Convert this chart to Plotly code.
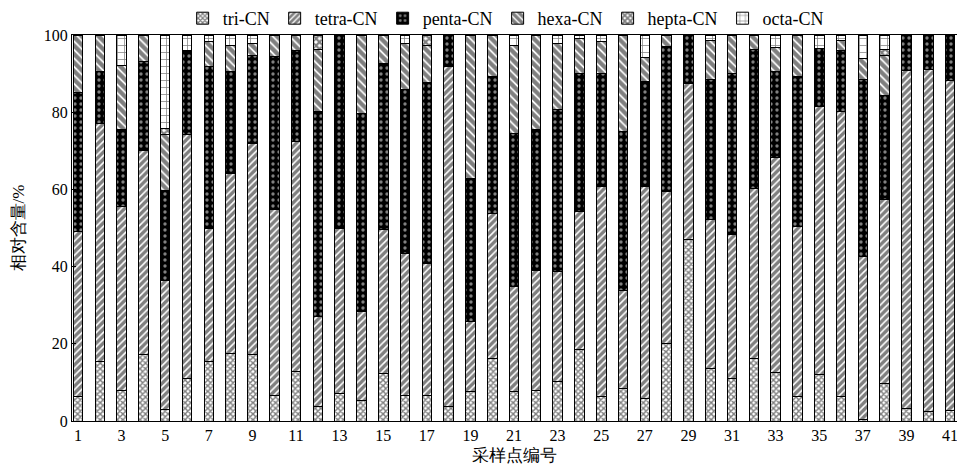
import plotly.graph_objects as go

samples = list(range(1, 42))
tick_labels = [str(i) for i in range(1, 42, 2)]
tick_vals = list(range(1, 42, 2))

tri = [6.3, 15.4, 8.0, 17.1, 3.0, 11.1, 15.4, 17.6, 17.1, 6.7,
       12.8, 3.7, 7.2, 5.4, 12.4, 6.7, 6.7, 3.7, 7.6, 16.2,
       7.6, 8.0, 10.2, 18.4, 6.3, 8.5, 5.9, 20.1, 46.9, 13.7,
       11.1, 16.2, 12.5, 6.3, 12.0, 6.3, 0.5, 9.8, 3.3, 2.4, 2.8]
tetra = [42.7, 61.8, 47.5, 53.1, 33.5, 63.0, 34.5, 46.6, 54.9, 48.0,
         59.6, 23.3, 42.7, 22.9, 37.1, 36.7, 34.2, 88.1, 18.1, 37.6,
         27.2, 31.1, 28.5, 35.8, 54.4, 25.4, 54.8, 39.3, 40.6, 38.4,
         37.1, 44.1, 55.8, 44.0, 69.4, 74.0, 42.0, 47.5, 87.4, 88.7, 85.5]
penta = [36.0, 13.3, 19.9, 22.9, 23.3, 21.5, 41.9, 26.3, 22.8, 39.7,
         23.7, 53.3, 50.1, 51.3, 43.2, 42.6, 46.8, 8.2, 37.2, 35.4,
         39.7, 36.3, 42.0, 35.9, 29.4, 41.0, 27.2, 37.6, 12.5, 36.4,
         41.9, 36.0, 22.3, 39.0, 15.1, 15.6, 46.0, 27.0, 9.3, 8.9, 11.7]
hexa = [15.0, 9.5, 16.8, 6.9, 14.4, 0.5, 6.5, 6.9, 3.0, 5.6,
        3.9, 16.0, 0.0, 20.4, 7.3, 11.8, 9.7, 0.0, 37.1, 10.8,
        22.7, 24.6, 17.2, 9.0, 8.2, 25.1, 6.3, 3.0, 0.0, 10.2,
        9.9, 3.7, 6.1, 10.7, 0.0, 2.6, 5.5, 10.5, 0.0, 0.0, 0.0]
hepta = [0, 0, 0, 0, 1.6, 0, 0, 0, 0, 0,
         0, 3.7, 0, 0, 0, 0, 2.6, 0, 0, 0,
         0, 0, 0, 0, 0, 0, 0, 0, 0, 0,
         0, 0, 0, 0, 0, 0, 0, 1.5, 0, 0, 0]
octa = [0, 0, 7.8, 0, 24.2, 3.9, 1.7, 2.6, 2.2, 0,
        0, 0, 0, 0, 0, 2.2, 0, 0, 0, 0,
        2.8, 0, 2.1, 0.9, 1.7, 0, 5.8, 0, 0, 1.3,
        0, 0, 3.3, 0, 3.5, 1.5, 6.0, 3.7, 0, 0, 0]

series = [
    ("tri-CN", tri, dict(shape="x", fgcolor="black", bgcolor="white", size=4, solidity=0.6)),
    ("tetra-CN", tetra, dict(shape="/", fgcolor="black", bgcolor="white", size=5, solidity=0.68)),
    ("penta-CN", penta, dict(shape=".", fgcolor="white", bgcolor="black", size=6, solidity=0.25)),
    ("hexa-CN", hexa, dict(shape="\\", fgcolor="black", bgcolor="white", size=6, solidity=0.7)),
    ("hepta-CN", hepta, dict(shape="x", fgcolor="black", bgcolor="white", size=5, solidity=0.7)),
    ("octa-CN", octa, dict(shape="+", fgcolor="black", bgcolor="white", size=7, solidity=0.2)),
]

fig = go.Figure()
for name, vals, pat in series:
    fig.add_trace(go.Bar(
        x=samples, y=vals, name=name,
        marker=dict(color="black", pattern=pat, line=dict(color="black", width=1)),
    ))

font_main = "Liberation Serif"

fig.update_layout(
    barmode="stack",
    bargap=0.56,
    width=957, height=467,
    margin=dict(l=72, r=0, t=35, b=46, autoexpand=False),
    paper_bgcolor="white", plot_bgcolor="white",
    font=dict(family=font_main, size=16, color="black"),
    showlegend=True,
    legend=dict(orientation="h", xref="paper", x=0.49, xanchor="center",
                yref="container", y=1.0, yanchor="top",
                font=dict(family=font_main, size=18), itemwidth=30, traceorder="normal",
                bgcolor="rgba(0,0,0,0)"),
    xaxis=dict(range=[0.725, 41.32], tickvals=tick_vals, ticktext=tick_labels,
               showline=True, linecolor="black", linewidth=1, mirror=True,
               ticks="", showgrid=False, zeroline=False, automargin=False,
               ticklabeloverflow="allow",
               tickfont=dict(size=16),
               title=dict(text="采样点编号", font=dict(size=17), standoff=5)),
    yaxis=dict(range=[0, 100], tickvals=[0, 20, 40, 60, 80, 100],
               showline=True, linecolor="black", linewidth=1,
               ticks="inside", ticklen=4, tickcolor="black",
               showgrid=False, zeroline=False, automargin=False,
               tickfont=dict(size=16),
               title=dict(text="相对含量/%", font=dict(size=17), standoff=14)),
)

fig.write_html(
    "out.html",
    config={"displayModeBar": False},
    post_script="document.body.style.margin='0';document.body.style.overflow='hidden';",
)
